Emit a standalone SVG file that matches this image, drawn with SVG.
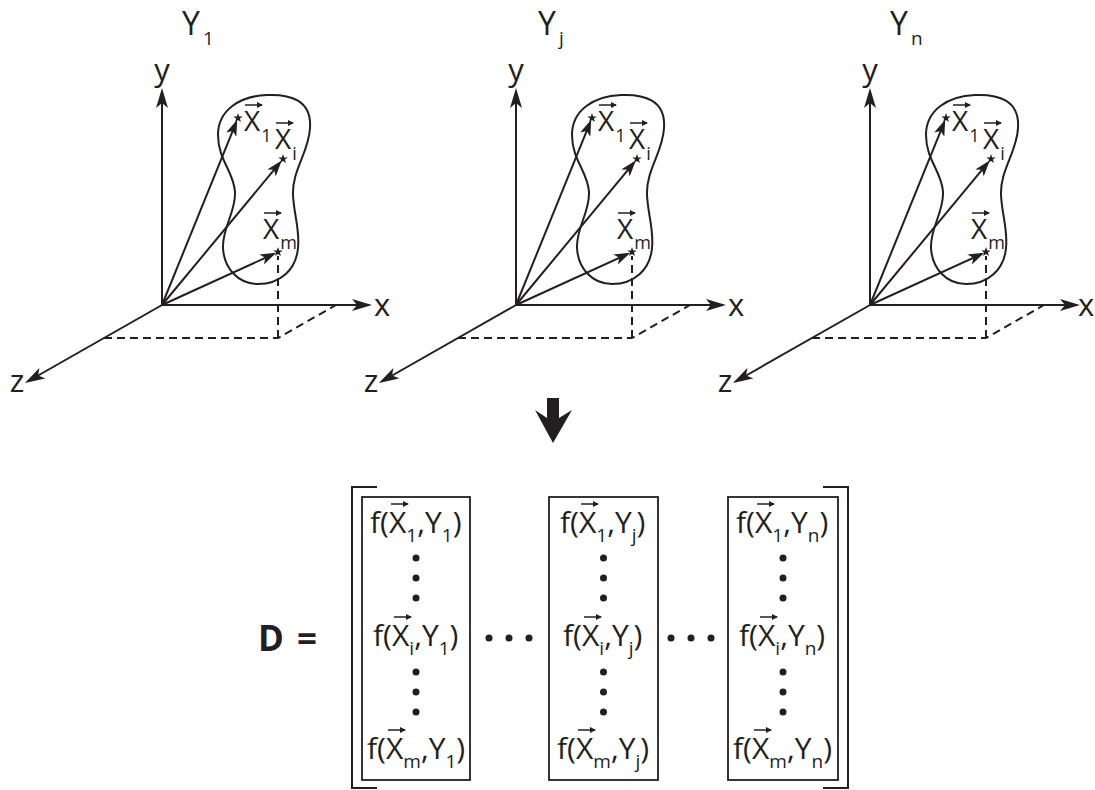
<svg xmlns="http://www.w3.org/2000/svg" width="1095" height="790" viewBox="0 0 1095 790">
<style>
text{font-family:"Open Sans","Noto Sans","DejaVu Sans",sans-serif;fill:#231f20}
.ttl{font-size:32px}.ts{font-size:19px}
.axl{font-size:31px}
.pl{font-size:28px}.ps{font-size:18px}
.mf{font-size:30px}.ms{font-size:19px}
.bold{font-size:35px;font-weight:700}
.ax,.vl{stroke:#231f20;stroke-width:2;fill:none}
.dash{stroke:#231f20;stroke-width:2;fill:none;stroke-dasharray:8 5}
.blob{stroke:#231f20;stroke-width:2;fill:none}
.acc{stroke:#231f20;stroke-width:1.5;fill:none}
.box{stroke:#231f20;stroke-width:1.8;fill:none}
.brk{stroke:#231f20;stroke-width:2;fill:none}
.dot{fill:#231f20}
.star{fill:#231f20}
</style>
<defs>
<marker id="axh" viewBox="0 0 20 12" refX="17" refY="6" markerWidth="20" markerHeight="12" markerUnits="userSpaceOnUse" orient="auto"><path d="M0,0 L20,6 L0,12 L5,6 Z" fill="#231f20"/></marker>
<marker id="vh" viewBox="0 0 16 11" refX="13" refY="5.5" markerWidth="16" markerHeight="11" markerUnits="userSpaceOnUse" orient="auto"><path d="M0,0 L16,5.5 L0,11 L4,5.5 Z" fill="#231f20"/></marker>
<marker id="acch" viewBox="0 0 6 6" refX="5" refY="3" markerWidth="6" markerHeight="6" markerUnits="userSpaceOnUse" orient="auto"><path d="M0,0 L6,3 L0,6 Z" fill="#231f20"/></marker>
<path id="star" d="M0,-5 L1.18,-1.62 L4.76,-1.55 L1.9,0.62 L2.94,4.05 L0,2 L-2.94,4.05 L-1.9,0.62 L-4.76,-1.55 L-1.18,-1.62 Z"/>
</defs>

<g id="panel-1">
 <text class="ttl" x="182" y="35">Y<tspan class="ts" dx="3" dy="10">1</tspan></text>
 <path class="ax" d="M162,305 V91" marker-end="url(#axh)"/>
 <path class="ax" d="M162,305 H369" marker-end="url(#axh)"/>
 <path class="ax" d="M162,305 L27.6,381.5" marker-end="url(#axh)"/>
 <text class="axl" x="162" y="81" text-anchor="middle">y</text>
 <text class="axl" x="374" y="316">x</text>
 <text class="axl" x="17" y="392" text-anchor="middle">z</text>
 <path class="dash" d="M104,338 H278 L336,305 M278,338 V256"/>
 <path class="blob" d="M267,95 C290,94 312,100 310,128 C309,152 292,170 293,195 C294,215 300,230 298,248 C296,270 280,284 258,284 C238,284 224,268 223,248 C222,228 236,212 235,192 C234,172 218,160 218,135 C218,110 240,96 267,95 Z"/>
 <path class="vl" d="M162,305 L236.1,122.6" marker-end="url(#vh)"/>
 <path class="vl" d="M162,305 L279.8,162.9" marker-end="url(#vh)"/>
 <path class="vl" d="M162,305 L273.5,254.1" marker-end="url(#vh)"/>
 <use href="#star" class="star" x="238" y="118"/>
 <use href="#star" class="star" x="283" y="159"/>
 <use href="#star" class="star" x="278" y="252"/>
 <text class="pl" x="244" y="131">X<tspan class="ps" dx="1" dy="11">1</tspan></text>
 <path class="acc" d="M245,105 h17" marker-end="url(#acch)"/>
 <text class="pl" x="275" y="149">X<tspan class="ps" dx="1" dy="11">i</tspan></text>
 <path class="acc" d="M276,123 h17" marker-end="url(#acch)"/>
 <text class="pl" x="263" y="239">X<tspan class="ps" dx="1" dy="10">m</tspan></text>
 <path class="acc" d="M264,213 h17" marker-end="url(#acch)"/>
</g>

<g id="panel-j" transform="translate(354,0)">
 <text class="ttl" x="184" y="35">Y<tspan class="ts" dx="3" dy="10">j</tspan></text>
 <path class="ax" d="M162,305 V91" marker-end="url(#axh)"/>
 <path class="ax" d="M162,305 H369" marker-end="url(#axh)"/>
 <path class="ax" d="M162,305 L27.6,381.5" marker-end="url(#axh)"/>
 <text class="axl" x="162" y="81" text-anchor="middle">y</text>
 <text class="axl" x="374" y="316">x</text>
 <text class="axl" x="17" y="392" text-anchor="middle">z</text>
 <path class="dash" d="M104,338 H278 L336,305 M278,338 V256"/>
 <path class="blob" d="M267,95 C290,94 312,100 310,128 C309,152 292,170 293,195 C294,215 300,230 298,248 C296,270 280,284 258,284 C238,284 224,268 223,248 C222,228 236,212 235,192 C234,172 218,160 218,135 C218,110 240,96 267,95 Z"/>
 <path class="vl" d="M162,305 L236.1,122.6" marker-end="url(#vh)"/>
 <path class="vl" d="M162,305 L279.8,162.9" marker-end="url(#vh)"/>
 <path class="vl" d="M162,305 L273.5,254.1" marker-end="url(#vh)"/>
 <use href="#star" class="star" x="238" y="118"/>
 <use href="#star" class="star" x="283" y="159"/>
 <use href="#star" class="star" x="278" y="252"/>
 <text class="pl" x="244" y="131">X<tspan class="ps" dx="1" dy="11">1</tspan></text>
 <path class="acc" d="M245,105 h17" marker-end="url(#acch)"/>
 <text class="pl" x="275" y="149">X<tspan class="ps" dx="1" dy="11">i</tspan></text>
 <path class="acc" d="M276,123 h17" marker-end="url(#acch)"/>
 <text class="pl" x="263" y="239">X<tspan class="ps" dx="1" dy="10">m</tspan></text>
 <path class="acc" d="M264,213 h17" marker-end="url(#acch)"/>
</g>

<g id="panel-n" transform="translate(708,0)">
 <text class="ttl" x="182" y="35">Y<tspan class="ts" dx="3" dy="10">n</tspan></text>
 <path class="ax" d="M162,305 V91" marker-end="url(#axh)"/>
 <path class="ax" d="M162,305 H369" marker-end="url(#axh)"/>
 <path class="ax" d="M162,305 L27.6,381.5" marker-end="url(#axh)"/>
 <text class="axl" x="162" y="81" text-anchor="middle">y</text>
 <text class="axl" x="370" y="316">x</text>
 <text class="axl" x="17" y="392" text-anchor="middle">z</text>
 <path class="dash" d="M104,338 H278 L336,305 M278,338 V256"/>
 <path class="blob" d="M267,95 C290,94 312,100 310,128 C309,152 292,170 293,195 C294,215 300,230 298,248 C296,270 280,284 258,284 C238,284 224,268 223,248 C222,228 236,212 235,192 C234,172 218,160 218,135 C218,110 240,96 267,95 Z"/>
 <path class="vl" d="M162,305 L236.1,122.6" marker-end="url(#vh)"/>
 <path class="vl" d="M162,305 L279.8,162.9" marker-end="url(#vh)"/>
 <path class="vl" d="M162,305 L273.5,254.1" marker-end="url(#vh)"/>
 <use href="#star" class="star" x="238" y="118"/>
 <use href="#star" class="star" x="283" y="159"/>
 <use href="#star" class="star" x="278" y="252"/>
 <text class="pl" x="244" y="131">X<tspan class="ps" dx="1" dy="11">1</tspan></text>
 <path class="acc" d="M245,105 h17" marker-end="url(#acch)"/>
 <text class="pl" x="275" y="149">X<tspan class="ps" dx="1" dy="11">i</tspan></text>
 <path class="acc" d="M276,123 h17" marker-end="url(#acch)"/>
 <text class="pl" x="263" y="239">X<tspan class="ps" dx="1" dy="10">m</tspan></text>
 <path class="acc" d="M264,213 h17" marker-end="url(#acch)"/>
</g>

<g id="connectors">
 <path d="M547,398 H559 V418 L572,410 L553,443 L535,410 L547,418 Z" fill="#231f20"/>
</g>

<g id="matrix">
 <text class="bold" y="651"><tspan x="258">D</tspan><tspan x="297">=</tspan></text>
 <path class="brk" d="M377,487 H352 V788 H377"/>
 <path class="brk" d="M823,487 H848 V788 H823"/>
 <rect class="box" x="362" y="497" width="108" height="283"/>
 <rect class="box" x="549" y="497" width="109" height="283"/>
 <rect class="box" x="728" y="497" width="110" height="283"/>

 <text class="mf" x="370" y="533">f(<tspan x="389">X</tspan><tspan class="ms" dy="9">1</tspan><tspan dy="-9">,Y</tspan><tspan class="ms" dy="9">1</tspan><tspan dy="-9">)</tspan></text>
 <text class="mf" x="373" y="646">f(<tspan x="392">X</tspan><tspan class="ms" dy="9">i</tspan><tspan dy="-9">,Y</tspan><tspan class="ms" dy="9">1</tspan><tspan dy="-9">)</tspan></text>
 <text class="mf" x="367" y="759">f(<tspan x="386">X</tspan><tspan class="ms" dy="9">m</tspan><tspan dy="-9">,Y</tspan><tspan class="ms" dy="9">1</tspan><tspan dy="-9">)</tspan></text>

 <text class="mf" x="560" y="533">f(<tspan x="579">X</tspan><tspan class="ms" dy="9">1</tspan><tspan dy="-9">,Y</tspan><tspan class="ms" dy="9">j</tspan><tspan dy="-9">)</tspan></text>
 <text class="mf" x="563" y="646">f(<tspan x="582">X</tspan><tspan class="ms" dy="9">i</tspan><tspan dy="-9">,Y</tspan><tspan class="ms" dy="9">j</tspan><tspan dy="-9">)</tspan></text>
 <text class="mf" x="557" y="759">f(<tspan x="576">X</tspan><tspan class="ms" dy="9">m</tspan><tspan dy="-9">,Y</tspan><tspan class="ms" dy="9">j</tspan><tspan dy="-9">)</tspan></text>

 <text class="mf" x="736" y="533">f(<tspan x="755">X</tspan><tspan class="ms" dy="9">1</tspan><tspan dy="-9">,Y</tspan><tspan class="ms" dy="9">n</tspan><tspan dy="-9">)</tspan></text>
 <text class="mf" x="739" y="646">f(<tspan x="758">X</tspan><tspan class="ms" dy="9">i</tspan><tspan dy="-9">,Y</tspan><tspan class="ms" dy="9">n</tspan><tspan dy="-9">)</tspan></text>
 <text class="mf" x="733" y="759">f(<tspan x="752">X</tspan><tspan class="ms" dy="9">m</tspan><tspan dy="-9">,Y</tspan><tspan class="ms" dy="9">n</tspan><tspan dy="-9">)</tspan></text>

 <path class="acc" d="M391,504 h17" marker-end="url(#acch)"/>
 <path class="acc" d="M394,617 h17" marker-end="url(#acch)"/>
 <path class="acc" d="M388,730 h17" marker-end="url(#acch)"/>
 <path class="acc" d="M581,504 h17" marker-end="url(#acch)"/>
 <path class="acc" d="M584,617 h17" marker-end="url(#acch)"/>
 <path class="acc" d="M578,730 h17" marker-end="url(#acch)"/>
 <path class="acc" d="M757,504 h17" marker-end="url(#acch)"/>
 <path class="acc" d="M760,617 h17" marker-end="url(#acch)"/>
 <path class="acc" d="M754,730 h17" marker-end="url(#acch)"/>

 <g class="dot">
  <circle cx="416" cy="558" r="3.5"/><circle cx="416" cy="578" r="3.5"/><circle cx="416" cy="598" r="3.5"/>
  <circle cx="416" cy="672" r="3.5"/><circle cx="416" cy="692" r="3.5"/><circle cx="416" cy="712" r="3.5"/>
  <circle cx="603.5" cy="558" r="3.5"/><circle cx="603.5" cy="578" r="3.5"/><circle cx="603.5" cy="598" r="3.5"/>
  <circle cx="603.5" cy="672" r="3.5"/><circle cx="603.5" cy="692" r="3.5"/><circle cx="603.5" cy="712" r="3.5"/>
  <circle cx="783" cy="558" r="3.5"/><circle cx="783" cy="578" r="3.5"/><circle cx="783" cy="598" r="3.5"/>
  <circle cx="783" cy="672" r="3.5"/><circle cx="783" cy="692" r="3.5"/><circle cx="783" cy="712" r="3.5"/>
  <circle cx="489" cy="638" r="3.5"/><circle cx="509" cy="638" r="3.5"/><circle cx="529" cy="638" r="3.5"/>
  <circle cx="671" cy="638" r="3.5"/><circle cx="691" cy="638" r="3.5"/><circle cx="711" cy="638" r="3.5"/>
 </g>
</g>
</svg>
